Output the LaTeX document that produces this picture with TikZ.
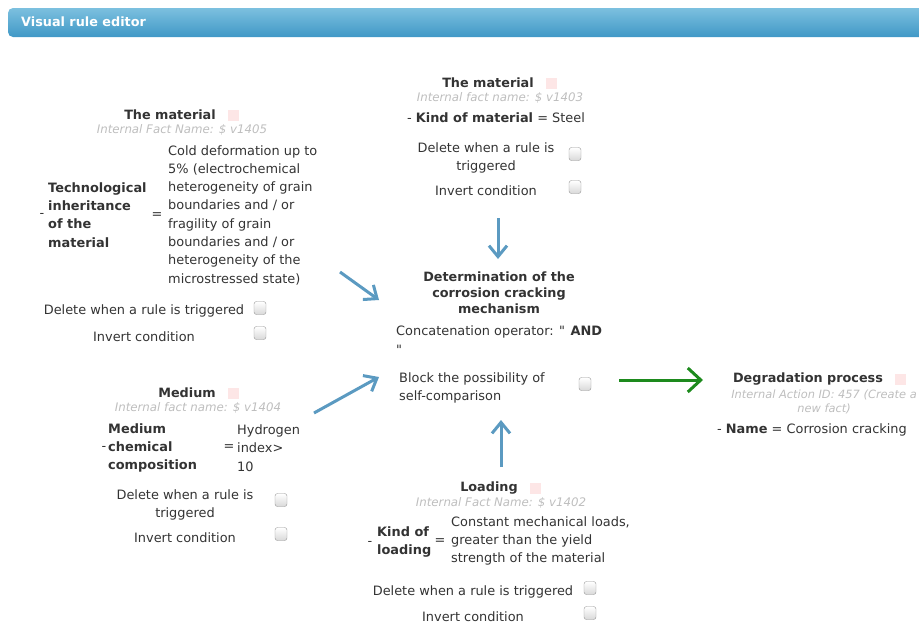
\documentclass[tikz,border=0pt]{standalone}
\usepackage{xcolor}
\usepackage{tikz}
\usepackage{fontspec}
\setmainfont{DejaVu Sans}
\usetikzlibrary{arrows.meta, positioning}
\definecolor{barlight}{RGB}{124, 192, 223}
\definecolor{bardark}{RGB}{64, 152, 198}
\definecolor{linkblue}{RGB}{91, 154, 193}
\definecolor{actgreen}{RGB}{29, 138, 29}
\definecolor{txtgray}{RGB}{51, 51, 51}
\definecolor{hintgray}{RGB}{190, 190, 190}
\definecolor{flagpink}{RGB}{253, 230, 230}
\definecolor{boxgray}{RGB}{150, 150, 150}

\begin{document}
\begin{tikzpicture}[
  x=1pt, y=-1pt,
  txt/.style={inner sep=0, text=txtgray, font=\fontsize{12.9}{18.3}\selectfont},
  key/.style={txt, font=\bfseries\fontsize{12.9}{18.3}\selectfont, align=left},
  ttl/.style={inner sep=0, text=txtgray, font=\bfseries\fontsize{12.8}{16}\selectfont, align=center},
  hint/.style={inner sep=0, text=hintgray, font=\itshape\fontsize{11.8}{14}\selectfont, align=center},
  flag/.style={fill=flagpink, inner sep=0, minimum size=11pt},
  cbox/.style={draw=boxgray, top color=white, bottom color=black!15, rounded corners=2.5pt, inner sep=0, minimum width=12pt, minimum height=13pt},
  link/.style={draw=linkblue, line width=3pt, -{Straight Barb[length=11pt, width=18pt]}},
  fire/.style={draw=actgreen, line width=3pt, -{Straight Barb[length=13pt, width=24pt]}}
]
  \useasboundingbox (0,0) rectangle (919,625);

  % Header bar
  \shade[top color=barlight, bottom color=bardark, rounded corners=5pt] (8,8) rectangle (930,37);
  \node[anchor=west, inner sep=0, text=white, font=\bfseries\fontsize{12.8}{14}\selectfont] (head) at (21,22) {Visual rule editor};

  % The material (v1405)
  \node[ttl] (mat1) at (170,115) {The material};
  \node[flag, right=12pt of mat1] (mat1f) {};
  \node[hint] (mat1h) at (182,130) {Internal Fact Name: \$ v1405};
  \node[txt] (mat1d) at (42,215) {-};
  \node[key, anchor=west] (mat1k) at (48,215) {Technological\\inheritance\\of the\\material};
  \node[txt] (mat1eq) at (157,216) {=};
  \node[txt, anchor=west, align=left] (mat1v) at (168,215) {Cold deformation up to\\5\% (electrochemical\\heterogeneity of grain\\boundaries and / or\\fragility of grain\\boundaries and / or\\heterogeneity of the\\microstressed state)};
  \node[txt] (mat1del) at (144,311) {Delete when a rule is triggered};
  \node[cbox] (mat1c1) at (260,308) {};
  \node[txt] (mat1inv) at (144,337) {Invert condition};
  \node[cbox] (mat1c2) at (260,333) {};

  % The material (v1403)
  \node[ttl] (mat2) at (488,83) {The material};
  \node[flag, right=12pt of mat2] (mat2f) {};
  \node[hint] (mat2h) at (500,98) {Internal fact name: \$ v1403};
  \node[txt] (mat2k) at (496,118) {- \textbf{Kind of material} = Steel};
  \node[txt, align=center] (mat2del) at (486,158) {Delete when a rule is\\triggered};
  \node[cbox] (mat2c1) at (575,154) {};
  \node[txt] (mat2inv) at (486,191) {Invert condition};
  \node[cbox] (mat2c2) at (575,187) {};

  % Determination of the mechanism
  \node[ttl] (core) at (499,293) {Determination of the\\corrosion cracking\\mechanism};
  \node[txt, anchor=west, align=left] (coreop) at (396,340) {Concatenation operator: \textquotedbl{} \textbf{AND}\\\textquotedbl};
  \node[txt, anchor=west, align=left] (coreblk) at (399,388) {Block the possibility of\\self-comparison};
  \node[cbox] (corec) at (585,384) {};

  % Degradation process
  \node[ttl] (deg) at (808,379) {Degradation process};
  \node[flag, right=12pt of deg] (degf) {};
  \node[hint, anchor=east, font=\itshape\fontsize{11.4}{14}\selectfont] (degh) at (917,402) {Internal Action ID: 457 (Create a\\new fact)};
  \node[txt] (degn) at (812,430) {- \textbf{Name} = Corrosion cracking};

  % Medium (v1404)
  \node[ttl] (med) at (187,393) {Medium};
  \node[flag, right=12pt of med] (medf) {};
  \node[hint] (medh) at (198,408) {Internal fact name: \$ v1404};
  \node[txt] (medd) at (104,448) {-};
  \node[key, anchor=west] (medk) at (108,448) {Medium\\chemical\\composition};
  \node[txt] (medeq) at (229,448) {=};
  \node[txt, anchor=west, align=left] (medv) at (237,448) {Hydrogen\\index>\\10};
  \node[txt, align=center] (meddel) at (185,505) {Delete when a rule is\\triggered};
  \node[cbox] (medc1) at (281,500) {};
  \node[txt] (medinv) at (185,538) {Invert condition};
  \node[cbox] (medc2) at (281,534) {};

  % Loading (v1402)
  \node[ttl] (load) at (489,488) {Loading};
  \node[flag, right=12pt of load] (loadf) {};
  \node[hint] (loadh) at (501,503) {Internal Fact Name: \$ v1402};
  \node[txt] (loadd) at (370,543) {-};
  \node[key, anchor=west] (loadk) at (377,542) {Kind of\\loading};
  \node[txt] (loadeq) at (440,542) {=};
  \node[txt, anchor=west, align=left] (loadv) at (451,541) {Constant mechanical loads,\\greater than the yield\\strength of the material};
  \node[txt] (loaddel) at (473,592) {Delete when a rule is triggered};
  \node[cbox] (loadc1) at (590,588) {};
  \node[txt] (loadinv) at (473,617) {Invert condition};
  \node[cbox] (loadc2) at (590,613) {};

  % Arrow ends
  \coordinate (up1) at (498,218);
  \coordinate (up2) at (498,259);
  \coordinate (lt1) at (340,272);
  \coordinate (lt2) at (379,300);
  \coordinate (lb1) at (314,413);
  \coordinate (lb2) at (379,377);
  \coordinate (dn1) at (501,467);
  \coordinate (dn2) at (501,420);
  \coordinate (rt1) at (619,380);
  \coordinate (rt2) at (703,380);

  % Arrows
  \draw[link] (up1) -- (up2);
  \draw[link] (lt1) -- (lt2);
  \draw[link] (lb1) -- (lb2);
  \draw[link] (dn1) -- (dn2);
  \draw[fire] (rt1) -- (rt2);
\end{tikzpicture}
\end{document}
